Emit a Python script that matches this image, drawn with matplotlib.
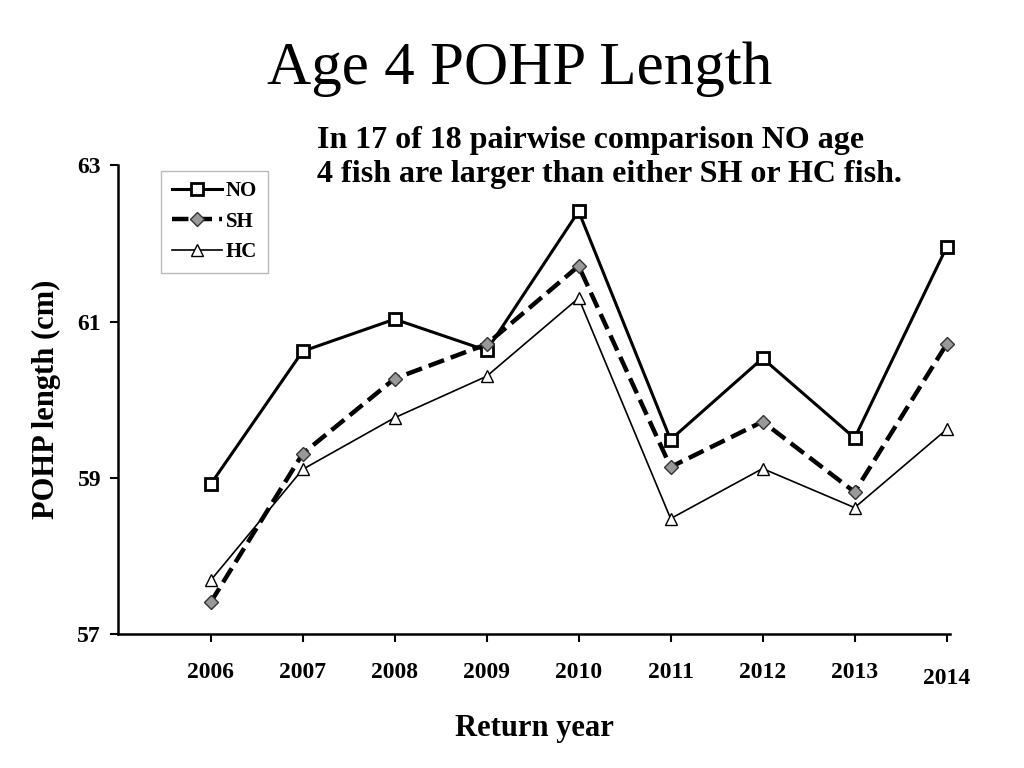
import matplotlib
matplotlib.use("Agg")
import matplotlib.pyplot as plt

years = ["2006", "2007", "2008", "2009", "2010", "2011", "2012", "2013", "2014"]
no_vals = [58.92, 60.62, 61.03, 60.63, 62.41, 59.49, 60.53, 59.51, 61.95]
sh_vals = [57.41, 59.31, 60.27, 60.71, 61.71, 59.14, 59.72, 58.82, 60.71]
hc_vals = [57.69, 59.11, 59.77, 60.30, 61.30, 58.48, 59.12, 58.62, 59.62]
y_ticks = [57, 59, 61, 63]

plt.rcParams["font.family"] = "Liberation Serif"
fig = plt.figure(figsize=(10.24, 7.68), dpi=100)
ax = fig.add_axes([0.115, 0.174, 0.813, 0.611])
x = list(range(len(years)))

ax.plot(x, no_vals, "-s", color="black", lw=2.2, ms=9, mfc="white", mew=2, label="NO", clip_on=False)
ax.plot(x, sh_vals, "--D", color="black", lw=3.2, ms=7, mfc="#999999", mec="#333333", mew=1,
        label="SH", clip_on=False)
ax.plot(x, hc_vals, "-^", color="black", lw=1.2, ms=9, mfc="white", mew=1, label="HC", clip_on=False)

ax.set_xlim(-1.01, 8.04)
ax.set_ylim(57, 63)
ax.set_xticks(x)
ax.set_xticklabels(years, fontsize=17, fontweight="bold")
ax.get_xticklabels()[-1].set_y(-0.012)
ax.set_yticks(y_ticks)
ax.set_yticklabels([str(v) for v in y_ticks], fontsize=17, fontweight="bold")
ax.tick_params(direction="out", length=6, width=1.5, pad=14)
ax.tick_params(axis="y", pad=6)
for s in ["top", "right"]:
    ax.spines[s].set_visible(False)
for s in ["left", "bottom"]:
    ax.spines[s].set_linewidth(1.8)

ax.set_xlabel("Return year", fontsize=22, fontweight="bold", labelpad=18)
ax.set_ylabel("POHP length (cm)", fontsize=22, fontweight="bold", labelpad=12)

leg = ax.legend(loc="upper left", bbox_to_anchor=(0.04, 1.01), frameon=True,
                prop={"size": 15, "weight": "bold"},
                fancybox=False, edgecolor="#aaaaaa", handlelength=2.4, labelspacing=0.5,
                handletextpad=0.2, borderpad=0.5)
leg.get_frame().set_linewidth(1)

fig.text(0.507, 0.91, "Age 4 POHP Length", ha="center", va="center", fontsize=44)
fig.text(0.31, 0.795, "In 17 of 18 pairwise comparison NO age\n4 fish are larger than either SH or HC fish.",
         ha="left", va="center", fontsize=23, fontweight="bold", linespacing=1.25)

fig.savefig("out.png", dpi=100)
